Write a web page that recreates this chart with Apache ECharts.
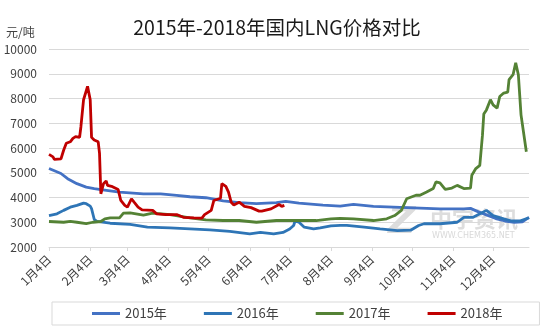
<!DOCTYPE html>
<html>
<head>
<meta charset="utf-8">
<script src="https://cdn.jsdelivr.net/npm/echarts@6/dist/echarts.min.js"></script>
<style>
  html, body { margin: 0; padding: 0; background: #fff; }
  #chart { width: 554px; height: 332px; }
</style>
</head>
<body>
<div id="chart"></div>
<script>
// Chart title and axis text
const titleText = '2015年-2018年国内LNG价格对比';
const unitText = '元/吨';
const seriesNames = ['2015年', '2016年', '2017年', '2018年'];
const seriesColors = ['#4472C4', '#2E75B6', '#548235', '#C00000'];

// Y axis range (元/吨)
const yMin = 2000;
const yMax = 10000;
const yStep = 1000;

// Prices by calendar day, [date, price]
const s2015 = [
  ['1月4日', 5170], ['1月13日', 4970], ['1月18日', 4760], ['1月25日', 4560],
  ['2月1日', 4420], ['2月7日', 4360], ['2月12日', 4320], ['2月26日', 4220],
  ['3月16日', 4150], ['3月29日', 4150], ['4月10日', 4090], ['4月20日', 4030],
  ['5月2日', 3990], ['5月15日', 3860], ['5月27日', 3790], ['6月9日', 3750],
  ['6月24日', 3790], ['7月1日', 3840], ['7月11日', 3770], ['7月29日', 3690],
  ['8月11日', 3650], ['8月21日', 3720], ['9月5日', 3640], ['9月30日', 3590],
  ['10月25日', 3540], ['11月12日', 3540], ['11月17日', 3560], ['11月23日', 3420],
  ['11月29日', 3300], ['12月6日', 3150], ['12月13日', 3050], ['12月20日', 3000],
  ['12月26日', 3020], ['12月31日', 3200]
];

const s2016 = [
  ['1月4日', 3270], ['1月10日', 3340], ['1月15日', 3480], ['1月20日', 3610],
  ['1月25日', 3680], ['1月30日', 3770], ['2月1日', 3750], ['2月4日', 3650],
  ['2月5日', 3550], ['2月7日', 3120], ['2月9日', 3040], ['2月19日', 2960],
  ['3月6日', 2910], ['3月19日', 2800], ['4月5日', 2770], ['4月20日', 2730],
  ['5月5日', 2690], ['5月20日', 2630], ['6月4日', 2530], ['6月12日', 2590],
  ['6月22日', 2530], ['6月29日', 2590], ['7月4日', 2730], ['7月7日', 2870],
  ['7月8日', 3040], ['7月11日', 3000], ['7月15日', 2800], ['7月22日', 2730],
  ['7月27日', 2770], ['8月4日', 2850], ['8月11日', 2870], ['8月16日', 2870],
  ['8月29日', 2800], ['9月10日', 2730], ['9月23日', 2660], ['10月3日', 2680],
  ['10月9日', 2870], ['10月13日', 2940], ['10月25日', 2940], ['11月7日', 3000],
  ['11月12日', 3200], ['11月19日', 3200], ['11月29日', 3480], ['12月4日', 3270],
  ['12月12日', 3140], ['12月18日', 3050], ['12月24日', 3050], ['12月31日', 3180]
];

const s2017 = [
  ['1月4日', 3030], ['1月15日', 3000], ['1月20日', 3040], ['1月25日', 3000],
  ['2月1日', 2940], ['2月6日', 3000], ['2月12日', 3030], ['2月15日', 3140],
  ['2月19日', 3180], ['2月26日', 3180], ['3月1日', 3370], ['3月6日', 3380],
  ['3月16日', 3290], ['3月23日', 3370], ['4月5日', 3310], ['4月20日', 3180],
  ['5月2日', 3100], ['5月15日', 3070], ['5月27日', 3070], ['6月9日', 3000],
  ['6月24日', 3070], ['7月9日', 3070], ['7月24日', 3070], ['8月4日', 3140],
  ['8月11日', 3160], ['8月21日', 3140], ['9月5日', 3070], ['9月15日', 3140],
  ['9月21日', 3270], ['9月26日', 3480], ['9月30日', 3950], ['10月7日', 4090],
  ['10月10日', 4090], ['10月15日', 4220], ['10月20日', 4360], ['10月22日', 4630],
  ['10月25日', 4590], ['10月29日', 4330], ['11月3日', 4380], ['11月7日', 4490],
  ['11月12日', 4360], ['11月17日', 4380], ['11月18日', 4900], ['11月21日', 5170],
  ['11月24日', 5300], ['11月26日', 6520], ['11月27日', 7370], ['11月29日', 7540],
  ['12月2日', 7950], ['12月4日', 7740], ['12月7日', 7610], ['12月9日', 8080],
  ['12月12日', 8220], ['12月15日', 8260], ['12月16日', 8760], ['12月19日', 8960],
  ['12月21日', 9440], ['12月23日', 8960], ['12月25日', 7340], ['12月29日', 5850]
];

const s2018 = [
  ['1月4日', 5740], ['1月7日', 5640], ['1月8日', 5540], ['1月13日', 5560],
  ['1月15日', 5910], ['1月17日', 6190], ['1月20日', 6250], ['1月22日', 6390],
  ['1月24日', 6460], ['1月27日', 6430], ['1月28日', 6860], ['1月30日', 7950],
  ['2月2日', 8490], ['2月4日', 7950], ['2月5日', 6430], ['2月7日', 6320],
  ['2月10日', 6250], ['2月11日', 5780], ['2月12日', 4150], ['2月14日', 4560],
  ['2月16日', 4670], ['2月17日', 4490], ['2月20日', 4450], ['2月25日', 4320],
  ['2月27日', 3880], ['3月2日', 3680], ['3月4日', 3610], ['3月7日', 3950],
  ['3月9日', 3810], ['3月12日', 3610], ['3月15日', 3500], ['3月23日', 3480],
  ['3月26日', 3340], ['4月2日', 3310], ['4月10日', 3310], ['4月15日', 3200],
  ['4月23日', 3180], ['4月29日', 3170], ['5月1日', 3310], ['5月6日', 3480],
  ['5月8日', 3880], ['5月9日', 3950], ['5月13日', 3970], ['5月14日', 4560],
  ['5月17日', 4450], ['5月19日', 4220], ['5月21日', 3810], ['5月23日', 3700],
  ['5月27日', 3810], ['5月31日', 3640], ['6月5日', 3590], ['6月11日', 3450],
  ['6月13日', 3450], ['6月20日', 3540], ['6月26日', 3720], ['6月28日', 3640],
  ['6月30日', 3680]
];

// Daily category axis from 1月4日 to 12月31日
const days = [];
for (let t = new Date(2018, 0, 4); t.getFullYear() === 2018; t.setDate(t.getDate() + 1)) {
  days.push((t.getMonth() + 1) + '月' + t.getDate() + '日');
}
// Ticks and labels on the 4th of each month
const isFourth = (idx, val) => val.split('月')[1] === '4日';

const FONT = '"Noto Sans CJK SC", "Microsoft YaHei", sans-serif';
const chart = echarts.init(document.getElementById('chart'), null, { renderer: 'canvas' });

const seriesData = [s2015, s2016, s2017, s2018];

chart.setOption({
  animation: false,
  backgroundColor: '#ffffff',
  textStyle: { fontFamily: FONT },
  title: {
    text: titleText,
    left: 'center',
    top: 13,
    textStyle: { fontSize: 19.5, fontWeight: 'normal', color: '#1a1a1a', fontFamily: FONT }
  },
  graphic: [
    {
      type: 'text', left: 6, top: 26, z: 5,
      style: { text: unitText, fontSize: 12, fill: '#404040', fontFamily: FONT }
    },
    // Publisher watermark
    {
      type: 'text', left: 388, top: 204, z: 0,
      style: { text: 'Z', fontSize: 38, fontWeight: 'bold', fontStyle: 'italic', fill: '#dddddd', fontFamily: 'DejaVu Sans' }
    },
    {
      type: 'text', left: 430, top: 208, z: 0,
      style: { text: '中宇资讯', fontSize: 22, fontWeight: 'bold', fill: '#dddddd', fontFamily: FONT }
    },
    {
      type: 'text', left: 432, top: 232, z: 0,
      style: { text: 'WWW.CHEM365.NET', fontSize: 8, fill: '#d9d9d9', fontFamily: 'DejaVu Sans' }
    }
  ],
  legend: {
    data: seriesNames,
    left: 52,
    top: 302,
    padding: [5, 37, 5, 40],
    itemGap: 37,
    itemWidth: 28,
    itemHeight: 3,
    icon: 'rect',
    borderColor: '#d9d9d9',
    borderWidth: 1,
    textStyle: { fontSize: 13, color: '#404040', fontFamily: FONT }
  },
  grid: { left: 49, right: 25, top: 49, bottom: 85, containLabel: false },
  xAxis: {
    type: 'category',
    data: days,
    boundaryGap: false,
    axisLine: { lineStyle: { color: '#d9d9d9', width: 1 } },
    axisTick: { show: true, interval: isFourth, length: 4, lineStyle: { color: '#d9d9d9' } },
    axisLabel: {
      interval: isFourth,
      rotate: 45,
      margin: 10,
      fontSize: 12,
      color: '#404040',
      fontFamily: FONT
    },
    splitLine: { show: false }
  },
  yAxis: {
    type: 'value',
    min: yMin,
    max: yMax,
    interval: yStep,
    axisLine: { show: false },
    axisTick: { show: false },
    axisLabel: {
      margin: 12,
      fontSize: 12,
      color: '#404040',
      fontFamily: FONT,
      formatter: (v) => String(v)
    },
    splitLine: { lineStyle: { color: '#d9d9d9', width: 1 } }
  },
  series: seriesNames.map((name, i) => ({
    name: name,
    type: 'line',
    data: seriesData[i],
    showSymbol: false,
    symbol: 'none',
    z: 3 + i,
    lineStyle: { color: seriesColors[i], width: 2.8 },
    itemStyle: { color: seriesColors[i] }
  }))
});
</script>
</body>
</html>
